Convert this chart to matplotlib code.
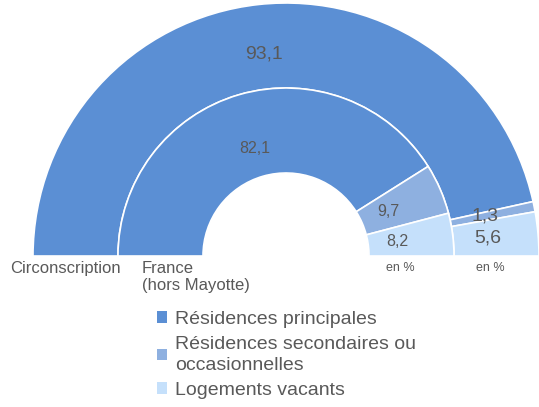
import matplotlib.pyplot as plt
from matplotlib.patches import Patch
import numpy as np

plt.rcParams['font.family'] = ['Liberation Sans', 'DejaVu Sans']

categories = ['Résidences principales', 'Résidences secondaires ou\noccasionnelles', 'Logements vacants']
circonscription = [93.1, 1.3, 5.6]
france = [82.1, 9.7, 8.2]
ring_names = ['Circonscription', 'France\n(hors Mayotte)']

colors = ['#5b8fd4', '#8eb0e0', '#c5e0fb']
grey = '#595959'

fig = plt.figure(figsize=(5.39, 4.07), dpi=100)
ax = fig.add_axes([0, 0, 1, 1])

cx, cy = 286, 151
r_out, r_mid, r_in = 253, 168, 83


def ring(values, radius, width, label_r, fs):
    wedges, _ = ax.pie(values + [100], radius=radius, center=(cx, cy),
                       startangle=180, counterclock=False,
                       colors=colors + ['white'],
                       wedgeprops=dict(width=width, edgecolor='white', linewidth=1.2))
    wedges[-1].set_visible(False)
    start = 180.0
    for v in values:
        span = v / 100 * 180
        mid = np.radians(start - span / 2)
        ax.text(cx + label_r * np.cos(mid), cy + label_r * np.sin(mid),
                f'{v:.1f}'.replace('.', ','), ha='center', va='center',
                fontsize=fs, color=grey)
        start -= span


ring(circonscription, r_out, r_out - r_mid, 203, 14)
ring(france, r_mid, r_mid - r_in, 112, 11.5)

ax.text(10, cy - 12, ring_names[0], ha='left', va='center', fontsize=12, color=grey)
ax.text(142, cy - 21, ring_names[1], ha='left', va='center', fontsize=12,
        color=grey, linespacing=1.2)
ax.text(400, cy - 12, 'en %', ha='center', va='center', fontsize=9, color=grey)
ax.text(490, cy - 12, 'en %', ha='center', va='center', fontsize=9, color=grey)

handles = [Patch(facecolor=c, edgecolor='none') for c in colors]
leg = ax.legend(handles, categories, loc='upper left', bbox_to_anchor=(149 / 539, 1 - 303 / 407),
                frameon=False, fontsize=14, handlelength=0.55, handleheight=0.55,
                handletextpad=0.4, labelspacing=0.42, borderaxespad=0)
for t in leg.get_texts():
    t.set_color(grey)
    t.set_linespacing(1.3)

ax.set_xlim(0, 539)
ax.set_ylim(0, 407)
ax.set_aspect('equal')
ax.axis('off')

fig.savefig('out.png', dpi=100)
